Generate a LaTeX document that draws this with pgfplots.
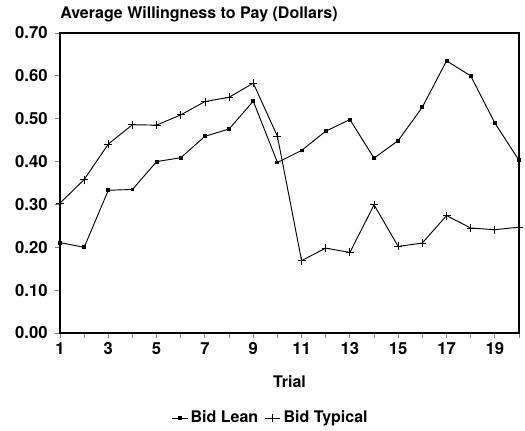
\documentclass[border=0pt]{standalone}
\usepackage{pgfplots}
\pgfplotsset{compat=1.18}
\usepackage{fontspec}
\setmainfont{TeX Gyre Heros}
\begin{document}
\begin{tikzpicture}
\begin{axis}[
  at={(0,0)}, anchor=south west,
  scale only axis,
  width=344.25pt, height=225pt,
  xmin=1, xmax=20, ymin=0, ymax=0.70,
  xtick={1,...,20},
  xticklabels={1,,3,,5,,7,,9,,11,,13,,15,,17,,19,},
  ytick={0,0.1,...,0.71},
  yticklabel style={/pgf/number format/.cd,fixed,fixed zerofill,precision=2, /tikz/xshift=-2pt},
  /pgf/number format/assume math mode=true,
  tick label style={font=\fontsize{12.5}{14}\selectfont\bfseries},
  tick align=outside,
  major tick length=3.75pt,
  tick style={line width=0.7pt},
  xtick pos=bottom, ytick pos=left,
  axis line style={line width=0.8pt},
  xlabel={Trial},
  xlabel style={font=\fontsize{12}{14}\selectfont\bfseries, at={(axis description cs:0.5,0)}, anchor=center, yshift=-36.75pt},
  legend style={draw=none, at={(0.46,-0.283)}, anchor=center, legend columns=2,
    font=\fontsize{12}{14}\selectfont\bfseries, inner sep=0pt,
    /tikz/every odd column/.append style={column sep=0pt},
    /tikz/every even column/.append style={column sep=3pt}},
  legend cell align=left,
  legend image code/.code={\draw[#1, line width=0.6pt, mark repeat=2, mark phase=2] plot coordinates {(0cm,0cm) (0.2cm,0cm) (0.4cm,0cm)};},
  clip=false,
]
\addplot[black, line width=0.7pt, mark=square*, mark size=1.1pt] coordinates {
(1,0.211) (2,0.200) (3,0.333) (4,0.335) (5,0.400) (6,0.409) (7,0.459) (8,0.476) (9,0.541) (10,0.398)
(11,0.426) (12,0.471) (13,0.498) (14,0.408) (15,0.449) (16,0.527) (17,0.635) (18,0.600) (19,0.490) (20,0.403)
};
\addlegendentry{Bid Lean}
\addplot[black, line width=0.7pt, mark=+, mark size=3pt, mark options={line width=0.6pt}] coordinates {
(1,0.303) (2,0.358) (3,0.441) (4,0.486) (5,0.485) (6,0.509) (7,0.540) (8,0.550) (9,0.583) (10,0.459)
(11,0.169) (12,0.198) (13,0.188) (14,0.299) (15,0.202) (16,0.210) (17,0.274) (18,0.245) (19,0.241) (20,0.247)
};
\addlegendentry{Bid Typical}
\node[anchor=west, inner sep=0pt, font=\fontsize{12}{14}\selectfont\bfseries] at (rel axis cs:0,1) [yshift=14.25pt] {Average Willingness to Pay (Dollars)};
\end{axis}
\path[use as bounding box] (-45pt,-72.75pt) rectangle (348.75pt,249.75pt);
\end{tikzpicture}
\end{document}
